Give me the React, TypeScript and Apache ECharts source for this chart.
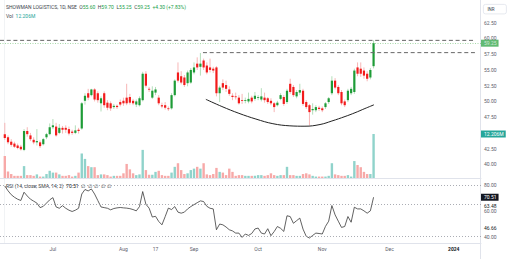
import { useEffect, useRef } from 'react';
import * as echarts from 'echarts';

const categoryCount = 150;
const categories = Array.from({ length: categoryCount }, (_, k) => String(k));
const firstBar = 1;

const open = [
  44.8, 44.3, 43.6, 43.3, 43.0, 42.8, 42.3, 45.3, 44.6, 43.9, 43.5, 43.5, 43.2, 44.3, 44.8, 45.9, 46.0, 45.0, 45.8, 45.8,
  45.6, 45.2, 45.0, 45.5, 45.7, 50.1, 51.3, 51.0,
  51.9, 51.3, 49.7, 51.3, 49.8, 49.7, 49.1, 49.3, 49.9, 50.1, 50.6, 50.7, 50.1, 49.5, 49.4, 50.2, 54.4, 52.0, 50.6, 51.4,
  50.6, 49.4, 49.4, 48.9, 48.9, 51.0, 54.6, 54.0, 53.8, 52.9,
  53.0, 54.6, 56.0, 55.5, 56.5, 55.7, 55.4, 55.2, 55.4, 51.3, 52.9, 52.6, 51.9, 50.9, 50.8, 50.6, 50.2, 50.1, 50.0, 50.6,
  50.4, 50.6, 50.3, 50.6, 50.5, 50.1, 49.7, 49.4, 50.4,
  50.7, 49.9, 52.8, 52.3, 50.8, 51.4, 51.7, 49.9, 49.4, 48.6, 48.6, 49.0, 48.9, 49.1, 49.9, 51.3, 53.3, 52.3, 51.5, 50.0,
  50.2, 51.3, 51.5, 55.4, 55.2, 54.9, 54.4, 53.8, 55.6,
];
const high = [
  46.6, 44.6, 44.0, 43.6, 43.3, 43.1, 45.6, 45.9, 45.0, 44.3, 45.6, 43.8, 44.2, 45.0, 46.5, 47.2, 46.6, 46.4, 46.1, 46.2,
  46.0, 45.5, 46.2, 45.8, 49.9, 51.3, 52.0, 52.0,
  52.1, 51.6, 50.8, 51.6, 50.2, 50.0, 49.6, 49.5, 50.3, 50.6, 52.8, 51.2, 50.4, 50.3, 50.8, 54.7, 54.8, 52.3, 52.4, 52.3,
  51.0, 49.8, 49.9, 49.2, 51.3, 53.5, 56.2, 54.8, 54.2, 54.9,
  55.3, 56.2, 57.0, 57.7, 56.8, 56.2, 56.8, 55.5, 55.6, 52.5, 53.5, 53.3, 52.4, 51.3, 51.4, 51.0, 51.2, 50.6, 51.4, 50.9,
  51.5, 51.0, 52.1, 51.4, 50.7, 50.5, 49.9, 50.1, 51.3,
  51.0, 52.0, 53.6, 52.6, 51.8, 52.8, 52.0, 50.2, 49.6, 49.7, 49.4, 49.3, 49.2, 49.9, 50.7, 54.0, 53.7, 52.6, 51.8, 50.3,
  52.0, 52.3, 55.2, 56.2, 56.2, 55.4, 54.8, 55.3, 59.7,
];
const low = [
  43.9, 43.2, 42.8, 42.6, 42.4, 42.2, 42.1, 44.4, 43.7, 43.2, 43.0, 42.6, 43.0, 44.0, 44.6, 45.6, 44.4, 44.8, 44.9, 45.0,
  44.6, 44.7, 44.8, 44.9, 45.5, 49.5, 50.2, 50.8,
  50.0, 49.8, 48.4, 49.0, 48.6, 48.5, 48.8, 48.8, 49.2, 49.3, 49.4, 49.5, 49.4, 49.1, 49.2, 50.0, 52.2, 51.5, 50.4, 51.0,
  49.4, 48.9, 48.7, 48.5, 48.7, 50.8, 53.0, 52.7, 52.3, 52.4,
  52.8, 54.3, 55.0, 54.1, 55.0, 54.3, 54.6, 54.5, 50.8, 49.9, 51.8, 51.5, 50.9, 50.2, 50.3, 49.5, 49.6, 49.7, 49.7, 49.7,
  50.1, 50.2, 50.0, 49.8, 49.6, 49.4, 48.3, 49.2, 50.2,
  49.3, 49.6, 51.2, 50.7, 50.5, 51.0, 49.3, 48.8, 46.2, 47.9, 48.3, 48.5, 48.3, 48.8, 49.6, 51.0, 51.9, 51.0, 49.4, 49.1,
  49.9, 51.0, 51.2, 54.0, 53.9, 53.6, 53.2, 53.5, 55.25,
];
const close = [
  44.2, 43.5, 43.1, 42.8, 42.6, 42.4, 45.3, 44.8, 44.0, 43.5, 43.7, 42.9, 44.0, 44.8, 45.9, 46.2, 44.6, 45.8, 45.5, 45.5,
  44.9, 45.0, 45.4, 45.3, 49.7, 50.9, 50.6, 51.9,
  50.3, 50.2, 50.5, 49.4, 49.0, 48.9, 49.3, 49.1, 49.5, 49.7, 49.7, 49.8, 49.7, 50.0, 50.5, 54.4, 52.5, 51.9, 51.7, 51.9,
  49.7, 49.2, 49.0, 48.8, 51.0, 53.3, 53.3, 53.0, 52.6, 54.6,
  55.0, 55.4, 55.4, 56.0, 55.4, 54.6, 55.0, 54.9, 51.3, 52.2, 52.2, 52.0, 51.2, 50.7, 50.7, 49.7, 50.1, 50.2, 50.4, 50.0,
  50.9, 50.7, 50.8, 50.2, 49.9, 49.7, 49.1, 49.8, 51.0,
  49.6, 51.7, 51.5, 51.0, 51.5, 51.8, 49.6, 49.1, 48.3, 48.8, 49.1, 48.8, 48.6, 49.7, 50.5, 53.3, 52.2, 51.3, 49.7, 49.4,
  51.7, 52.0, 54.9, 54.4, 54.4, 54.1, 53.6, 55.0, 59.25,
];
const volume = [
  6.1, 1.8, 1.1, 0.6, 0.6, 0.6, 3.3, 0.8, 0.8, 0.6, 1.0, 0.4, 0.4, 1.1, 2.0, 1.5, 1.5, 1.0, 0.6, 0.6,
  0.8, 0.4, 0.6, 1.5, 6.8, 5.3, 3.3, 3.0,
  3.0, 0.8, 1.0, 1.0, 0.8, 0.4, 0.6, 0.6, 0.6, 1.3, 3.9, 2.4, 1.3, 0.8, 1.0, 7.8, 2.2, 0.9, 0.9, 1.7,
  2.0, 0.8, 0.6, 0.6, 1.5, 3.1, 4.1, 2.2, 1.1, 1.3,
  2.2, 2.6, 3.1, 2.6, 4.1, 1.0, 0.8, 1.1, 2.8, 1.7, 1.5, 0.8, 2.6, 1.7, 0.6, 0.8, 0.8, 0.6, 0.6, 0.6,
  0.6, 0.8, 0.8, 0.6, 0.8, 1.3, 0.8, 0.6, 0.8,
  0.8, 3.1, 0.8, 0.8, 0.6, 0.6, 1.1, 1.3, 1.0, 0.6, 0.4, 0.4, 0.4, 0.4, 0.6, 4.1, 1.0, 0.8, 0.6, 0.6,
  0.8, 0.4, 4.7, 3.6, 3.0, 1.7, 1.1, 1.1, 12.206,
];
const rsi = [
  79.2, 75.5, 72.5, 70.5, 69.0, 68.0, 74.4, 71.5, 69.0, 67.5, 66.0, 62.5, 63.5, 66.0, 68.5, 70.2, 63.0, 62.0, 64.0, 62.0,
  60.5, 59.5, 60.5, 62.0, 73.0, 76.5, 75.4, 76.9,
  73.0, 68.0, 63.0, 62.5, 62.0, 60.8, 61.8, 62.3, 62.6, 62.3, 62.1, 61.7, 61.0, 60.0, 63.3, 74.9, 65.1, 62.1, 55.2, 55.8,
  51.8, 49.2, 55.5, 62.1, 61.0, 63.3, 59.0, 58.2, 59.0, 61.5,
  63.3, 64.8, 66.3, 67.7, 67.2, 63.5, 62.0, 61.5, 45.4, 49.8, 49.2, 47.5, 45.4, 44.5, 42.8, 42.8, 39.5, 42.1, 41.0, 42.5,
  46.0, 46.7, 42.8, 42.1, 46.2, 40.8, 44.0, 47.9, 46.5,
  44.1, 56.2, 55.6, 50.4, 52.4, 54.4, 45.9, 40.3, 39.0, 41.0, 42.8, 42.5, 42.1, 48.0, 52.0, 64.1, 56.9, 52.0, 47.2, 47.9,
  55.6, 51.2, 62.8, 61.5, 61.5, 60.0, 58.2, 60.0, 70.51,
];

const timeTickIndex = [16, 38, 48, 60, 80, 100, 121, 141];
const timeTickLabels = ['Jul', 'Aug', '17', 'Sep', 'Oct', 'Nov', 'Dec', '2024'];
const priceTicksHidden = [37.5, 45, 65];
const lastPrice = 59.25;
const lastVolumeLabel = '12.206M';
const lastVolume = 12.206;
const lastRsi = 70.51;
const rsiMaValues = [63.48, 46.66];
const rsiBands = [80, 65, 40];
const rsiAxisTicks = [40, 60, 80];
const resistanceHigh = [[-0.5, 59.7], [147.6, 59.7]];
const resistanceLow = [[62.8, 57.75], [147.6, 57.75]];
const arcX = [63.7, 68.7, 74.0, 79.3, 84.6, 89.9, 94.6, 99.3, 103.0, 107.1, 110.2, 113.3, 116.1];
const arcY = [50.33, 49.19, 48.11, 47.2, 46.46, 46.12, 46.06, 46.33, 46.89, 47.6, 48.2, 48.87, 49.46];

const FONT = 'Roboto, "Liberation Sans", sans-serif';
const AXIS_TEXT = '#5d606b';
const BODY_UP = '#1e9c37';
const BODY_DOWN = '#f21b1b';
const WICK_UP = '#9fd5a8';
const WICK_DOWN = '#f5a3a3';
const VOL_UP = '#90d3cb';
const VOL_DOWN = '#f7a9a8';
const BORDER = '#e0e3eb';
const CLEAR = 'rgba(0,0,0,0)';

export default function App() {
  const ref = useRef<HTMLDivElement>(null);

  useEffect(() => {
    const chart = echarts.init(ref.current!, null, { renderer: 'svg' });

    const candleData = open.map((o, k) => [k + firstBar, o, close[k], low[k], high[k]]);
    const volData = volume.map((v, k) => ({
      value: [k + firstBar, v],
      itemStyle: { color: close[k] >= open[k] ? VOL_UP : VOL_DOWN },
    }));
    const rsiData = rsi.map((v, k) => [k + firstBar, v]);
    const arcData = arcX.map((x, k) => [x, arcY[k]]);

    const gridL = 0;
    const gridR = 31;

    const badge = (text: string, bg: string) => ({
      show: true, position: 'end', distance: 0, formatter: text,
      backgroundColor: bg, color: '#fff', fontSize: 5, padding: [1, 2, 1, 3], fontFamily: FONT,
    });

    const option: any = {
      animation: false,
      textStyle: { fontFamily: FONT },
      grid: [
        { left: gridL, right: gridR, top: 7, height: 173.1 },
        { left: gridL, right: gridR, top: 134, height: 44 },
        { left: gridL, right: gridR, top: 178.5, height: 64.7 },
      ],
      xAxis: [
        { type: 'category', gridIndex: 0, data: categories, show: false, boundaryGap: true },
        {
          type: 'category', gridIndex: 1, data: categories, boundaryGap: true,
          axisLine: { show: true, lineStyle: { color: BORDER, width: 1 } },
          axisTick: { show: false }, axisLabel: { show: false }, splitLine: { show: false },
        },
        {
          type: 'category', gridIndex: 2, data: categories, boundaryGap: true,
          axisLine: { show: true, lineStyle: { color: BORDER, width: 1 } },
          axisTick: { show: false }, splitLine: { show: false },
          axisLabel: {
            interval: (index: number) => timeTickIndex.includes(index),
            formatter: (_v: string, index: number) => {
              const p = timeTickIndex.indexOf(index);
              if (p < 0) return '';
              const t = timeTickLabels[p];
              return /^\d{4}$/.test(t) ? `{b|${t}}` : t;
            },
            fontSize: 5, color: AXIS_TEXT, margin: 3, fontFamily: FONT,
            rich: { b: { fontSize: 5, fontWeight: 'bold', color: '#131722', fontFamily: FONT } },
          },
        },
        { type: 'value', gridIndex: 0, min: -0.5, max: categoryCount - 0.5, show: false },
      ],
      yAxis: [
        {
          type: 'value', gridIndex: 0, position: 'right', min: 37.5, max: 65, interval: 2.5,
          splitLine: { show: false }, axisLine: { show: false }, axisTick: { show: false },
          axisLabel: {
            fontSize: 5, color: AXIS_TEXT, margin: 3, fontFamily: FONT,
            formatter: (v: number) => (priceTicksHidden.includes(v) ? '' : v.toFixed(2)),
          },
        },
        {
          type: 'value', gridIndex: 1, position: 'right', min: 0, max: lastVolume, z: 5,
          splitLine: { show: false }, axisLine: { show: false }, axisTick: { show: false },
          axisLabel: {
            customValues: [lastVolume],
            showMinLabel: false,
            margin: 0,
            formatter: () => lastVolumeLabel,
            backgroundColor: '#26a69a', color: '#fff', fontSize: 5, padding: [1, 2, 1, 3], fontFamily: FONT,
          },
        },
        {
          type: 'value', gridIndex: 2, position: 'right', min: 35, max: 85,
          splitLine: { show: false }, axisLine: { show: false }, axisTick: { show: false },
          axisLabel: {
            customValues: rsiAxisTicks,
            fontSize: 5, color: AXIS_TEXT, margin: 3, fontFamily: FONT,
            formatter: (v: number) => v.toFixed(2),
          },
        },
      ],
      series: [
        {
          type: 'bar', xAxisIndex: 1, yAxisIndex: 1, data: volData, barWidth: 2.4,
        },
        {
          type: 'custom', xAxisIndex: 0, yAxisIndex: 0, data: candleData,
          encode: { x: 0, y: [1, 2, 3, 4] },
          renderItem: (_p: any, api: any) => {
            const x = api.value(0);
            const o = api.value(1), c = api.value(2), l = api.value(3), h = api.value(4);
            const po = api.coord([x, o]);
            const pc = api.coord([x, c]);
            const pl = api.coord([x, l]);
            const ph = api.coord([x, h]);
            const up = c >= o;
            const bw = 2.2;
            const y0 = Math.min(po[1], pc[1]);
            const bh = Math.max(Math.abs(po[1] - pc[1]), 0.8);
            return {
              type: 'group',
              children: [
                {
                  type: 'line',
                  shape: { x1: ph[0], y1: ph[1], x2: pl[0], y2: pl[1] },
                  style: { stroke: up ? WICK_UP : WICK_DOWN, lineWidth: 0.8 },
                },
                {
                  type: 'rect',
                  shape: { x: po[0] - bw / 2, y: y0, width: bw, height: bh },
                  style: { fill: up ? BODY_UP : BODY_DOWN },
                },
              ],
            };
          },
        },
        {
          type: 'line', xAxisIndex: 3, yAxisIndex: 0, data: arcData, smooth: 0.4, symbol: 'none',
          lineStyle: { color: '#222', width: 1 },
        },
        {
          type: 'line', xAxisIndex: 3, yAxisIndex: 0, data: resistanceHigh, symbol: 'none',
          lineStyle: { color: '#666', width: 1, type: [4, 2.7] },
          markLine: {
            silent: true, symbol: 'none', z: 10,
            lineStyle: { color: '#4caf50', type: [1, 1.5], width: 0.7, opacity: 0.7 },
            label: badge(lastPrice.toFixed(2), BODY_UP),
            data: [{ yAxis: lastPrice }],
          },
        },
        {
          type: 'line', xAxisIndex: 3, yAxisIndex: 0, data: resistanceLow, symbol: 'none',
          lineStyle: { color: '#666', width: 1, type: [4, 2.7] },
        },
        {
          type: 'line', xAxisIndex: 2, yAxisIndex: 2, data: rsiData, symbol: 'none',
          lineStyle: { color: '#3a3a3a', width: 0.8 },
          markLine: {
            silent: true, symbol: 'none', z: 10,
            data: [
              ...rsiBands.map((b) => ({
                yAxis: b,
                lineStyle: { color: '#9598a1', type: [1, 2], width: 0.8 },
                label: { show: false },
              })),
              ...rsiMaValues.map((m) => ({
                yAxis: m,
                lineStyle: { color: CLEAR, width: 0.1 },
                label: {
                  show: true, position: 'end', distance: 0, formatter: m.toFixed(2),
                  color: '#131722', fontSize: 5, padding: [0, 2, 0, 3], fontFamily: FONT,
                  backgroundColor: '#fff',
                },
              })),
              {
                yAxis: lastRsi,
                lineStyle: { color: CLEAR, width: 0.1 },
                label: badge(lastRsi.toFixed(2), '#131722'),
              },
            ],
          },
        },
      ],
      graphic: [
        { type: 'line', shape: { x1: 480.5, y1: 0, x2: 480.5, y2: 259 }, style: { stroke: BORDER, lineWidth: 1 }, silent: true },
        { type: 'line', shape: { x1: 4.5, y1: 0, x2: 4.5, y2: 243 }, style: { stroke: '#eef0f3', lineWidth: 0.8 }, silent: true },
        {
          type: 'text', left: 6, top: 4,
          style: {
            text: '{n|SHOWMAN LOGISTICS, 1D, NSE}  {l|O}{v|55.60}  {l|H}{v|59.70}  {l|L}{v|55.25}  {l|C}{v|59.25}  {v|+4.30 (+7.83%)}',
            fontSize: 5, fontFamily: FONT,
            rich: {
              n: { fill: '#3b3f4a', fontSize: 5, fontFamily: FONT },
              l: { fill: '#3b3f4a', fontSize: 5, fontFamily: FONT },
              v: { fill: '#22a04a', fontSize: 5, fontFamily: FONT },
            },
          },
        },
        {
          type: 'text', left: 6, top: 13.5,
          style: {
            text: '{l|Vol}  {v|12.206M}',
            fontSize: 5, fontFamily: FONT,
            rich: {
              l: { fill: '#3b3f4a', fontSize: 5, fontFamily: FONT },
              v: { fill: '#26a69a', fontSize: 5, fontFamily: FONT },
            },
          },
        },
        {
          type: 'text', left: 6, top: 183.5,
          style: {
            text: '{l|RSI (14, close, SMA, 14, 2)}  {v|70.51}  {l|∅  ∅  ∅  ∅  ∅}',
            fontSize: 5, fontFamily: FONT,
            rich: {
              l: { fill: '#3b3f4a', fontSize: 5, fontFamily: FONT },
              v: { fill: '#131722', fontSize: 5, fontFamily: FONT },
            },
          },
        },
        {
          type: 'group', left: 483, top: 4,
          children: [
            { type: 'rect', shape: { x: 0, y: 0, width: 23, height: 9.5, r: 2 }, style: { fill: '#fff', stroke: BORDER, lineWidth: 0.8 } },
            { type: 'text', x: 4, y: 2.5, style: { text: 'INR', fontSize: 4.5, fill: '#3b3f4a', fontFamily: FONT } },
          ],
        },
      ],
    };

    chart.setOption(option);
    return () => chart.dispose();
  }, []);

  return (
    <div
      ref={ref}
      style={{ position: 'fixed', left: 0, top: 0, width: 512, height: 259, background: '#fff' }}
    />
  );
}
